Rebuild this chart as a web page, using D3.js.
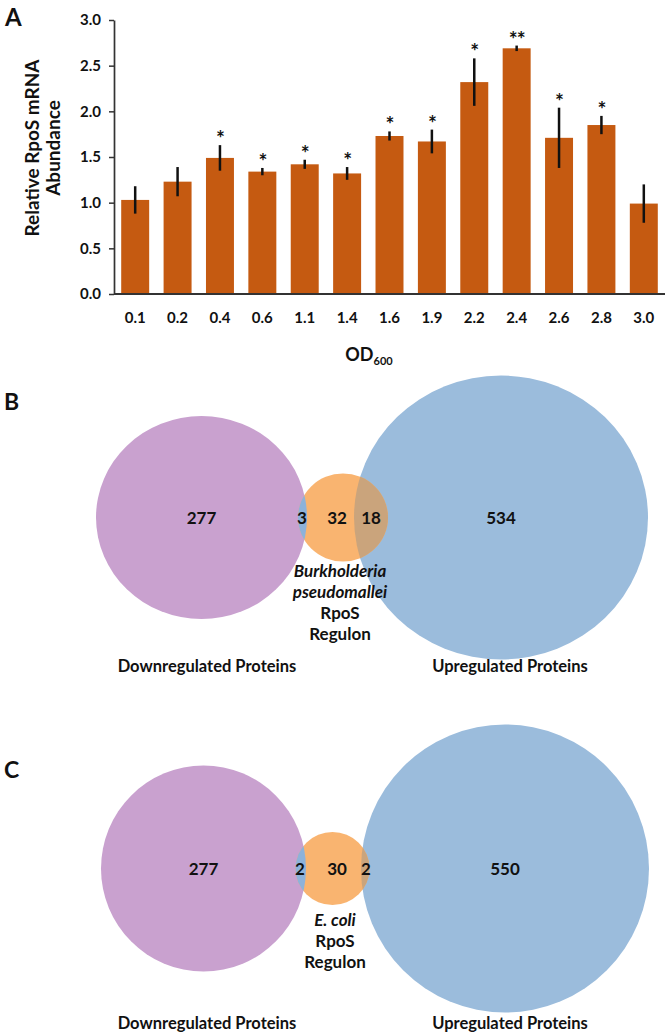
<!DOCTYPE html>
<html><head><meta charset="utf-8">
<script src="https://cdn.jsdelivr.net/npm/d3@7"></script>
<style>
html,body{margin:0;padding:0;background:#fff;}
svg{display:block;font-family:Lato,"Open Sans",sans-serif;}
</style></head>
<body>
<svg id="chart" width="666" height="1034"></svg>
<script>
// ---- Panel A data ----
const categories = ["0.1","0.2","0.4","0.6","1.1","1.4","1.6","1.9","2.2","2.4","2.6","2.8","3.0"];
const abundance  = [1.03,1.23,1.49,1.34,1.42,1.32,1.73,1.67,2.32,2.69,1.71,1.85,0.99];
const errors     = [0.15,0.16,0.14,0.04,0.05,0.07,0.05,0.13,0.26,0.03,0.33,0.10,0.21];
const significance = ["","","*","*","*","*","*","*","*","**","*","*",""];
const yTicks = [0,0.5,1.0,1.5,2.0,2.5,3.0];

// ---- Venn data ----
const vennBLabels = ["277","3","32","18","534"];
const vennCLabels = ["277","2","30","2","550"];
const regulonB = ["Burkholderia","pseudomallei","RpoS","Regulon"];
const regulonC = ["E. coli","RpoS","Regulon"];
const setNames = ["Downregulated Proteins","Upregulated Proteins"];

const svg = d3.select("#chart");

// ===== Panel A =====
const plotL = 114, plotR = 665, plotT = 20, plotB = 294;
const x = d3.scaleBand().domain(categories).range([plotL, plotR]).paddingInner(0.34).paddingOuter(0.17);
const y = d3.scaleLinear().domain([0,3]).range([plotB, plotT]);

const gA = svg.append("g");
gA.append("text").attr("x",5).attr("y",26).attr("font-size",24).attr("font-weight",700).attr("fill","#111").text("A");

// bars
gA.selectAll("rect.bar").data(abundance).join("rect")
  .attr("x",(d,i)=>x(categories[i])).attr("width",x.bandwidth())
  .attr("y",d=>y(d)).attr("height",d=>y(0)-y(d)).attr("fill","#c55a11");

// error bars
gA.selectAll("line.err").data(abundance).join("line")
  .attr("x1",(d,i)=>x(categories[i])+x.bandwidth()/2).attr("x2",(d,i)=>x(categories[i])+x.bandwidth()/2)
  .attr("y1",(d,i)=>y(d-errors[i])).attr("y2",(d,i)=>y(d+errors[i]))
  .attr("stroke","#111").attr("stroke-width",2.5);

// stars
gA.selectAll("text.sig").data(significance).join("text")
  .attr("x",(d,i)=>x(categories[i])+x.bandwidth()/2)
  .attr("y",(d,i)=>y(abundance[i]+errors[i])+1)
  .attr("text-anchor","middle").attr("font-size",21).attr("font-weight",700).attr("fill","#111")
  .attr("letter-spacing",-1)
  .text(d=>d);

// y axis
const yAxis = d3.axisLeft(y).tickValues(yTicks).tickFormat(d3.format(".1f")).tickSize(5).tickSizeOuter(0);
const gy = gA.append("g").attr("transform",`translate(${plotL},0)`).call(yAxis);
gy.select(".domain").attr("stroke","#333").attr("stroke-width",1.7);
gy.selectAll(".tick line").attr("stroke","#333").attr("stroke-width",1.5);
gy.selectAll(".tick text").attr("font-size",15).attr("font-weight",700).attr("fill","#111")
  .attr("font-family","Lato,sans-serif").attr("x",-13);

// x axis
const xAxis = d3.axisBottom(x).tickSize(0).tickSizeOuter(0);
const gx = gA.append("g").attr("transform",`translate(0,${plotB})`).call(xAxis);
gx.select(".domain").attr("stroke","#333").attr("stroke-width",2).attr("d",`M${plotL},0H${plotR}`);
gx.selectAll(".tick text").attr("font-size",15).attr("font-weight",700).attr("fill","#111")
  .attr("font-family","Lato,sans-serif").attr("dy","0").attr("y",29);

// axis titles
const yt = gA.append("text").attr("transform","translate(39,148) rotate(-90)")
  .attr("text-anchor","middle").attr("font-size",19).attr("font-weight",700).attr("fill","#111");
yt.append("tspan").attr("x",0).attr("dy",0).text("Relative RpoS mRNA");
yt.append("tspan").attr("x",0).attr("dy",21).text("Abundance");

const xt = gA.append("text").attr("x",369).attr("y",361).attr("text-anchor","middle")
  .attr("font-size",18).attr("font-weight",700).attr("fill","#111");
xt.append("tspan").text("OD");
xt.append("tspan").attr("font-size",11).attr("dy",4).text("600");

// ===== Venn panels =====
function venn(cfg){
  const g = svg.append("g");
  g.append("text").attr("x",4).attr("y",cfg.letterY).attr("font-size",23).attr("font-weight",700).attr("fill","#111").text(cfg.letter);
  const id = cfg.letter;
  const defs = g.append("defs");
  defs.append("clipPath").attr("id","clipO"+id).append("ellipse")
    .attr("cx",cfg.o.cx).attr("cy",cfg.o.cy).attr("rx",cfg.o.rx).attr("ry",cfg.o.ry);
  const ellipses = [
    {e:cfg.p, fill:"#c9a1cf"},
    {e:cfg.b, fill:"#9bbcdc"},
    {e:cfg.o, fill:"#f9b470"}
  ];
  g.selectAll("ellipse.set").data(ellipses).join("ellipse")
    .attr("cx",d=>d.e.cx).attr("cy",d=>d.e.cy).attr("rx",d=>d.e.rx).attr("ry",d=>d.e.ry)
    .attr("fill",d=>d.fill);
  // overlaps
  const ov = g.append("g").attr("clip-path",`url(#clipO${id})`);
  ov.append("ellipse").attr("cx",cfg.p.cx).attr("cy",cfg.p.cy).attr("rx",cfg.p.rx).attr("ry",cfg.p.ry).attr("fill","#8db2da");
  ov.append("ellipse").attr("cx",cfg.b.cx).attr("cy",cfg.b.cy).attr("rx",cfg.b.rx).attr("ry",cfg.b.ry).attr("fill","#caa47c");

  const nums = [cfg.p.cx, cfg.n1x, cfg.n2x, cfg.n3x, cfg.b.cx];
  g.selectAll("text.num").data(cfg.labels).join("text")
    .attr("x",(d,i)=>nums[i]).attr("y",cfg.p.cy+6).attr("text-anchor","middle")
    .attr("font-size",17).attr("font-weight",700).attr("fill","#111").text(d=>d);

  g.selectAll("text.reg").data(cfg.regulon).join("text")
    .attr("x",cfg.regX).attr("y",(d,i)=>cfg.regY+i*21).attr("text-anchor","middle")
    .attr("font-size",17).attr("font-weight",700).attr("fill","#111")
    .attr("font-style",(d,i)=>i<cfg.italic?"italic":"normal").text(d=>d);

  g.selectAll("text.setname").data(setNames).join("text")
    .attr("x",(d,i)=>[207,510][i]).attr("y",cfg.nameY).attr("text-anchor","middle")
    .attr("font-size",16.5).attr("font-weight",700).attr("fill","#111").text(d=>d);
}

venn({letter:"B", letterY:410,
  p:{cx:201.5,cy:517.5,rx:105.5,ry:101.5},
  o:{cx:343,cy:517.5,rx:45,ry:44},
  b:{cx:501,cy:517.5,rx:147,ry:142},
  n1x:302, n2x:337, n3x:371, labels:vennBLabels,
  regulon:regulonB, italic:2, regX:340, regY:577, nameY:672});

venn({letter:"C", letterY:778,
  p:{cx:203.5,cy:868.5,rx:102.5,ry:103},
  o:{cx:332.5,cy:868.5,rx:37,ry:36.5},
  b:{cx:505,cy:868.5,rx:144,ry:144},
  n1x:300, n2x:337, n3x:366, labels:vennCLabels,
  regulon:regulonC, italic:1, regX:335, regY:926, nameY:1029});
</script>
</body></html>
